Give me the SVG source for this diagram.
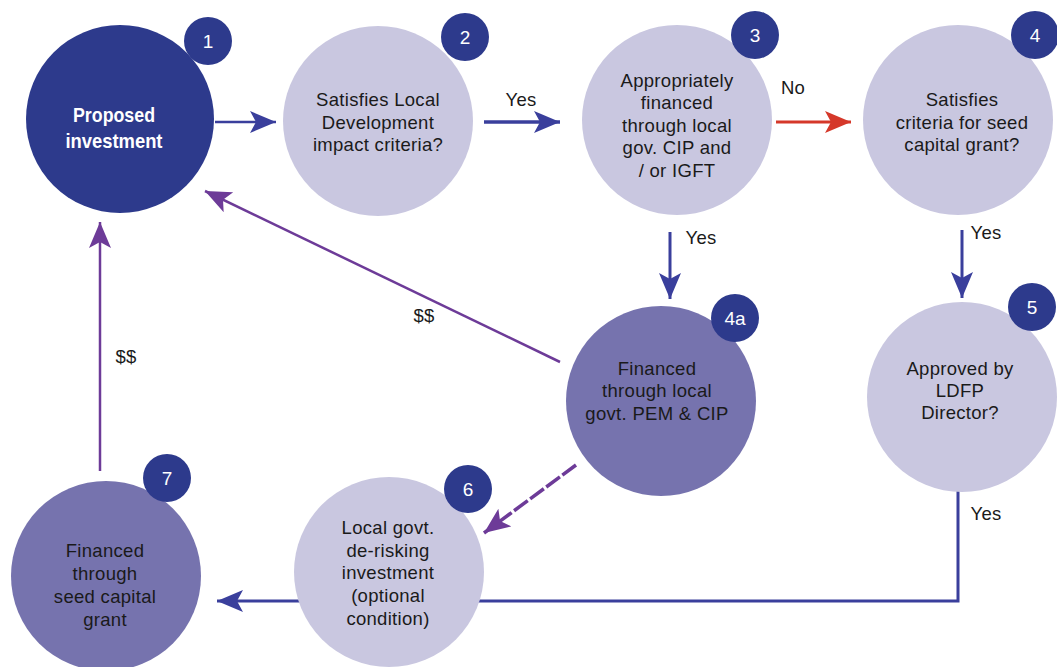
<svg xmlns="http://www.w3.org/2000/svg" width="1057" height="667" viewBox="0 0 1057 667">
  <style>
    .dark { fill: #2d3a8c; }
    .light { fill: #c9c7e0; }
    .mid { fill: #7673ae; }
    .badge { fill: #2d3a8c; }
    .num { font-family: "Liberation Sans", Arial, sans-serif; font-size: 19px; fill: #ffffff; text-anchor: middle; }
    .lbl { font-family: "Liberation Sans", Arial, sans-serif; font-size: 18.5px; fill: #1a1a1a; text-anchor: middle; letter-spacing: 0.3px; }
    .title { font-family: "Liberation Sans", Arial, sans-serif; font-size: 21px; font-weight: bold; fill: #ffffff; text-anchor: middle; }
    .edge { fill: none; stroke-linecap: butt; }
    .blue { stroke: #3a3f9c; }
    .red { stroke: #d5382a; }
    .purple { stroke: #6d3b98; }
  </style>
  <defs>
    <marker id="ah-blue" markerUnits="userSpaceOnUse" markerWidth="28" markerHeight="24" refX="26" refY="11" orient="auto">
      <path d="M0,0 L26,11 L0,22 L6,11 Z" fill="#3a3f9c"/>
    </marker>
    <marker id="ah-red" markerUnits="userSpaceOnUse" markerWidth="28" markerHeight="24" refX="26" refY="11" orient="auto">
      <path d="M0,0 L26,11 L0,22 L6,11 Z" fill="#d5382a"/>
    </marker>
    <marker id="ah-purple" markerUnits="userSpaceOnUse" markerWidth="28" markerHeight="24" refX="26" refY="11" orient="auto">
      <path d="M0,0 L26,11 L0,22 L6,11 Z" fill="#6d3b98"/>
    </marker>
  </defs>

  <rect width="1057" height="667" fill="#ffffff"/>

  <!-- connectors -->
  <g id="connectors">
    <line class="edge blue" x1="215" y1="122" x2="276" y2="122" stroke-width="2.5" marker-end="url(#ah-blue)"/>
    <line class="edge blue" x1="484" y1="122" x2="560" y2="122" stroke-width="3.5" marker-end="url(#ah-blue)"/>
    <text class="lbl" x="521" y="106">Yes</text>
    <line class="edge red" x1="776" y1="122" x2="851" y2="122" stroke-width="3" marker-end="url(#ah-red)"/>
    <text class="lbl" x="793" y="94">No</text>
    <line class="edge blue" x1="670" y1="232" x2="670" y2="299" stroke-width="3" marker-end="url(#ah-blue)"/>
    <text class="lbl" x="701" y="244">Yes</text>
    <line class="edge blue" x1="962" y1="230" x2="962" y2="298" stroke-width="3" marker-end="url(#ah-blue)"/>
    <text class="lbl" x="986" y="239">Yes</text>
    <polyline class="edge blue" points="958,490 958,601 217,601" stroke-width="3" marker-end="url(#ah-blue)"/>
    <text class="lbl" x="986" y="520">Yes</text>
    <line class="edge purple" x1="560" y1="362" x2="205" y2="191" stroke-width="2.5" marker-end="url(#ah-purple)"/>
    <text class="lbl" x="424" y="322">$$</text>
    <line class="edge purple" x1="100" y1="471" x2="100" y2="222" stroke-width="2.5" marker-end="url(#ah-purple)"/>
    <text class="lbl" x="126" y="363">$$</text>
    <line class="edge purple" x1="576" y1="465" x2="484" y2="533" stroke-width="3.5" stroke-dasharray="17 3" marker-end="url(#ah-purple)"/>
  </g>

  <!-- node 1 -->
  <g id="node-1">
    <circle class="dark" cx="120" cy="119" r="94"/>
    <text class="title" x="114" y="122" textLength="82" lengthAdjust="spacingAndGlyphs">Proposed</text>
    <text class="title" x="114" y="148" textLength="97" lengthAdjust="spacingAndGlyphs">investment</text>
    <circle class="badge" cx="208" cy="41" r="24"/>
    <text class="num" x="208" y="48">1</text>
  </g>

  <!-- node 2 -->
  <g id="node-2">
    <circle class="light" cx="378" cy="121" r="95"/>
    <text class="lbl" x="378" y="106">Satisfies Local</text>
    <text class="lbl" x="378" y="129">Development</text>
    <text class="lbl" x="378" y="151">impact criteria?</text>
    <circle class="badge" cx="465" cy="37" r="24"/>
    <text class="num" x="465" y="44">2</text>
  </g>

  <!-- node 3 -->
  <g id="node-3">
    <circle class="light" cx="677" cy="120" r="95"/>
    <text class="lbl" x="677" y="87">Appropriately</text>
    <text class="lbl" x="677" y="109">financed</text>
    <text class="lbl" x="677" y="132">through local</text>
    <text class="lbl" x="677" y="154">gov. CIP and</text>
    <text class="lbl" x="677" y="177">/ or IGFT</text>
    <circle class="badge" cx="755" cy="35" r="24"/>
    <text class="num" x="755" y="42">3</text>
  </g>

  <!-- node 4 -->
  <g id="node-4">
    <circle class="light" cx="958" cy="120" r="95"/>
    <text class="lbl" x="962" y="106">Satisfies</text>
    <text class="lbl" x="962" y="129">criteria for seed</text>
    <text class="lbl" x="962" y="151">capital grant?</text>
    <circle class="badge" cx="1035" cy="35" r="24"/>
    <text class="num" x="1035" y="42">4</text>
  </g>

  <!-- node 4a -->
  <g id="node-4a">
    <circle class="mid" cx="661" cy="401" r="95"/>
    <text class="lbl" x="657" y="375">Financed</text>
    <text class="lbl" x="657" y="397">through local</text>
    <text class="lbl" x="657" y="420">govt. PEM &amp; CIP</text>
    <circle class="badge" cx="735" cy="318" r="24"/>
    <text class="num" x="735" y="325">4a</text>
  </g>

  <!-- node 5 -->
  <g id="node-5">
    <circle class="light" cx="962" cy="397" r="95"/>
    <text class="lbl" x="960" y="375">Approved by</text>
    <text class="lbl" x="960" y="397">LDFP</text>
    <text class="lbl" x="960" y="419">Director?</text>
    <circle class="badge" cx="1032" cy="307" r="24"/>
    <text class="num" x="1032" y="314">5</text>
  </g>

  <!-- node 6 -->
  <g id="node-6">
    <circle class="light" cx="389" cy="572" r="95"/>
    <text class="lbl" x="388" y="534">Local govt.</text>
    <text class="lbl" x="388" y="557">de-risking</text>
    <text class="lbl" x="388" y="579">investment</text>
    <text class="lbl" x="388" y="602">(optional</text>
    <text class="lbl" x="388" y="625">condition)</text>
    <circle class="badge" cx="468" cy="489" r="24"/>
    <text class="num" x="468" y="496">6</text>
  </g>

  <!-- node 7 -->
  <g id="node-7">
    <circle class="mid" cx="106" cy="576" r="95"/>
    <text class="lbl" x="105" y="557">Financed</text>
    <text class="lbl" x="105" y="580">through</text>
    <text class="lbl" x="105" y="603">seed capital</text>
    <text class="lbl" x="105" y="626">grant</text>
    <circle class="badge" cx="167" cy="478" r="24"/>
    <text class="num" x="167" y="485">7</text>
  </g>
</svg>
